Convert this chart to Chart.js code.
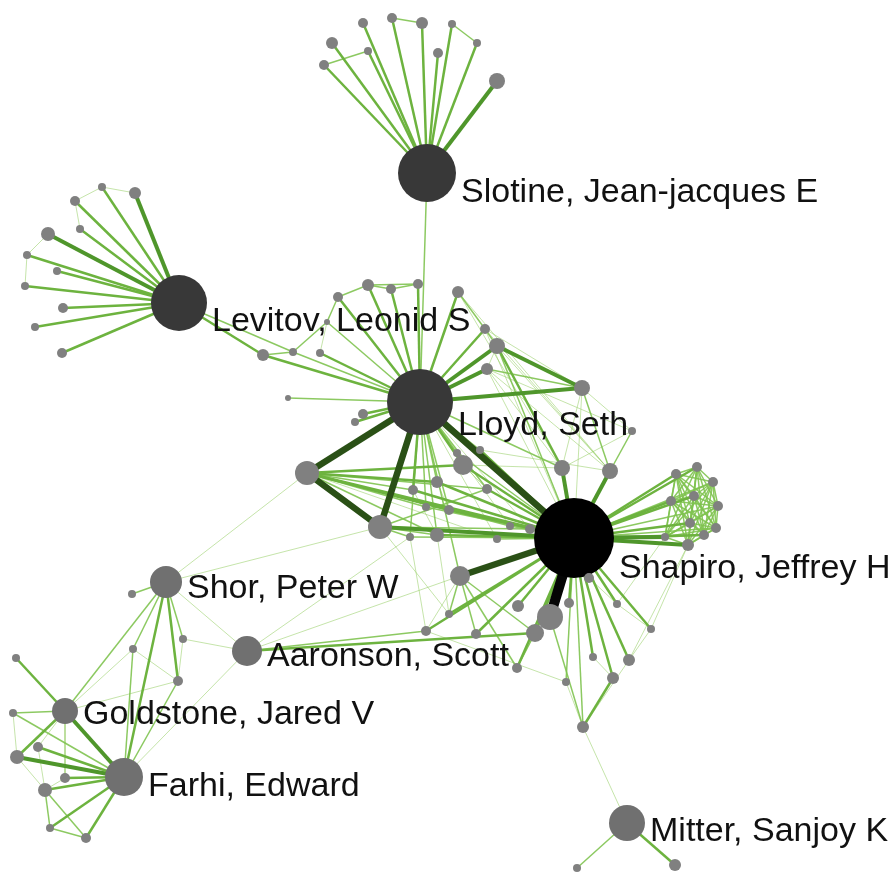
<!DOCTYPE html>
<html>
<head>
<meta charset="utf-8">
<title>Co-author network</title>
<script src="https://cdn.jsdelivr.net/npm/chart.js@4.4.1/dist/chart.umd.min.js"></script>
<style>
  html, body { margin: 0; padding: 0; background: #ffffff; }
  #wrap { width: 893px; height: 872px; }
</style>
</head>
<body>
<div id="wrap"><canvas id="net" width="893" height="872"></canvas></div>
<script>
// ---- Network data -------------------------------------------------------
// Author names (only the first nine are labelled)
const authorNames = [
  'Slotine, Jean-jacques E', 'Levitov, Leonid S', 'Lloyd, Seth', 'Shapiro, Jeffrey H',
  'Shor, Peter W', 'Aaronson, Scott', 'Goldstone, Jared V', 'Farhi, Edward', 'Mitter, Sanjoy K'
];

// Layout coordinates of every author node
const nodeX = [
  427, 179, 420, 574, 166, 247, 65, 124, 627,
  332, 324, 363, 368, 392, 422, 438, 452, 477, 497,
  102, 135, 75, 80, 48, 27, 57, 25, 63, 35, 62, 263, 293,
  368, 391, 418, 338, 458, 485, 497, 487, 582, 327, 320, 288, 363, 355,
  307, 380, 463, 457, 480, 562, 610, 437, 413, 487, 426, 449, 410, 437, 510, 530, 497,
  697, 676, 713, 694, 671, 718, 690, 716, 665, 704, 688,
  460, 449, 426, 476, 518, 550, 535, 569, 589, 617, 651, 629, 613, 593, 566, 517, 583,
  675, 577,
  132, 183, 133, 178, 16, 13, 38, 17, 65, 45, 50, 86,
  632
];
const nodeY = [
  173, 303, 402, 538, 582, 651, 711, 777, 823,
  43, 65, 23, 51, 18, 23, 53, 24, 43, 81,
  187, 193, 201, 229, 234, 255, 271, 286, 308, 327, 353, 355, 352,
  285, 289, 284, 297, 292, 329, 346, 369, 388, 322, 353, 398, 414, 422,
  473, 527, 465, 453, 450, 468, 471, 482, 490, 489, 507, 510, 537, 535, 526, 529, 539,
  467, 474, 482, 496, 501, 506, 523, 528, 537, 535, 545,
  576, 614, 631, 634, 606, 617, 633, 603, 578, 604, 629, 660, 678, 657, 682, 668, 727,
  865, 868,
  594, 639, 649, 681, 658, 713, 747, 757, 778, 790, 828, 838,
  431
];
// Node weight (drawn as the circle radius)
const nodeWeight = [
  29, 28, 33, 40, 16, 15, 13, 19, 18,
  6, 5, 5, 4, 5, 6, 5, 4, 4, 8,
  4, 6, 5, 4, 7, 4, 4, 4, 5, 4, 5, 6, 4,
  6, 5, 5, 5, 6, 5, 8, 6, 8, 3, 4, 3, 5, 4,
  12, 12, 10, 4, 4, 8, 8, 6, 5, 5, 4, 5, 4, 7, 4, 5, 4,
  5, 5, 5, 5, 5, 5, 5, 5, 4, 5, 6,
  10, 4, 5, 5, 6, 13, 9, 5, 5, 4, 4, 6, 6, 4, 4, 5, 6,
  6, 4,
  4, 4, 4, 5, 4, 4, 5, 7, 5, 7, 4, 5,
  4
];

// Co-authorship links: [author a, author b, strength 1..6]
const links = [
  // Slotine group
  [0,9,3],[0,10,3],[0,11,3],[0,12,3],[0,13,3],[0,14,3],[0,15,3],[0,16,3],[0,17,3],[0,18,4],
  [10,12,2],[13,14,2],[16,17,2],[0,2,2],
  // Levitov group
  [1,19,3],[1,20,4],[1,21,3],[1,22,3],[1,23,4],[1,24,3],[1,25,3],[1,26,3],[1,27,3],[1,28,3],[1,29,3],
  [19,21,1],[19,20,1],[21,22,1],[23,24,1],[24,26,1],
  [1,30,3],[1,31,2],[30,2,3],[31,2,2],[30,31,2],
  // Lloyd group
  [2,32,3],[2,33,3],[2,34,3],[2,35,3],[2,36,3],[2,37,3],[2,38,4],[2,39,4],[2,40,4],[2,41,2],
  [2,42,3],[2,43,2],[2,44,3],[2,45,3],[2,46,5],[2,47,5],[2,3,5],
  [35,32,2],[32,33,2],[33,34,2],[32,34,2],[41,42,1],[41,31,2],[35,41,2],[36,37,2],[37,38,2],
  [38,40,4],[39,40,2],[38,39,1],
  [2,48,3],[2,49,2],[2,50,2],[2,53,2],[2,54,3],[2,55,2],[2,56,2],[2,57,2],[2,59,2],[2,58,2],[2,51,2],
  [2,74,2],[2,60,1],[2,61,1],[2,62,1],
  [46,47,5],[46,3,3],[46,53,3],[46,48,3],[46,54,2],[46,57,3],[46,56,2],[46,55,2],[46,59,2],
  [46,60,2],[46,61,2],[46,62,1],
  [47,3,4],[47,59,2],[47,58,2],[47,55,2],[47,61,2],
  [48,55,1],[53,57,1],[54,59,1],
  [38,51,3],[38,52,1],[39,51,1],[40,52,2],[40,51,1],[37,3,1],[38,3,2],[39,3,1],[36,51,1],[40,3,1],
  [36,52,1],[37,52,1],[48,51,1],[50,52,1],[39,52,1],[37,40,1],
  [105,52,2],[105,51,1],[105,40,1],[105,39,1],
  // Shapiro group
  [3,48,3],[3,49,2],[3,50,3],[3,51,4],[3,52,4],[3,53,3],[3,54,3],[3,55,3],[3,56,2],[3,57,3],
  [3,58,2],[3,59,3],[3,60,2],[3,61,3],[3,62,2],
  [3,63,3],[3,64,3],[3,65,2],[3,66,3],[3,67,3],[3,68,2],[3,69,3],[3,70,2],[3,71,4],[3,72,3],[3,73,4],
  [3,74,5],[3,75,3],[3,76,3],[3,77,3],[3,78,3],[3,79,6],[3,80,3],[3,81,3],[3,82,3],[3,83,3],
  [3,84,3],[3,85,3],[3,86,3],[3,87,3],[3,88,2],[3,89,3],[3,90,2],
  [74,77,2],[74,89,2],[74,75,2],[74,76,1],[74,80,2],
  [79,90,2],[80,89,2],[86,90,3],[85,90,1],[84,85,1],[83,84,1],[82,83,1],[86,87,1],[88,90,1],
  [76,88,1],[89,80,1],[84,73,1],[85,73,1],[83,71,1],
  [58,76,1],[47,75,1],[59,75,1],
  // Aaronson, Mitter
  [5,80,3],[5,76,2],[5,58,1],[5,94,1],[5,4,1],[5,7,1],[5,74,1],
  [90,8,1],[8,91,3],[8,92,2],
  // Shor, Goldstone, Farhi group
  [4,6,2],[4,7,3],[4,93,2],[4,94,2],[4,95,2],[4,96,3],[4,46,1],[4,47,1],
  [95,96,1],[95,6,1],[94,96,1],[96,7,2],[95,7,2],[6,96,1],
  [6,7,4],[6,97,3],[6,98,2],[6,100,3],[6,99,1],[6,101,1],
  [7,98,2],[7,99,3],[7,100,4],[7,101,3],[7,102,3],[7,103,3],[7,104,3],
  [102,104,2],[102,103,2],[103,104,2],[100,102,1],[98,100,1],[99,102,1],[101,102,1]
];

// Tightly knit research group: every pair has co-authored
const denseGroup = [63, 64, 65, 66, 67, 68, 69, 70, 71, 72, 73];

// ---- Styling ----------------------------------------------------------------
const linkStyle = {
  1: { color: 'rgba(150,205,100,0.55)', width: 1 },
  2: { color: 'rgba(128,195,80,0.9)', width: 1.5 },
  3: { color: '#6db33f', width: 2.5 },
  4: { color: '#4f962b', width: 4 },
  5: { color: '#2a5016', width: 6.5 },
  6: { color: '#050505', width: 10 }
};
function nodeColor(i) {
  if (i === 3) return '#000000';
  if (i <= 2) return '#383838';
  if (i <= 8) return '#707070';
  return '#808080';
}

// ---- Build datasets -------------------------------------------------------
const allLinks = links.slice();
for (let a = 0; a < denseGroup.length; a++) {
  for (let b = a + 1; b < denseGroup.length; b++) {
    allLinks.push([denseGroup[a], denseGroup[b], 2]);
  }
}

const nodePoints = nodeX.map((x, i) => ({ x: x, y: nodeY[i] }));

const nodeDataset = {
  type: 'scatter',
  label: 'authors',
  data: nodePoints,
  pointRadius: nodeWeight,
  pointHoverRadius: nodeWeight,
  pointBackgroundColor: nodeX.map((_, i) => nodeColor(i)),
  pointBorderWidth: 0,
  pointHoverBorderWidth: 0,
  order: 0,
  clip: false
};

const linkDatasets = allLinks.map(([a, b, w]) => ({
  type: 'line',
  data: [nodePoints[a], nodePoints[b]],
  borderColor: linkStyle[w].color,
  borderWidth: linkStyle[w].width,
  borderCapStyle: w >= 5 ? 'round' : 'butt',
  pointRadius: 0,
  pointHoverRadius: 0,
  fill: false,
  tension: 0,
  order: 10 - w,
  clip: false
}));

// Author name labels next to the main nodes
const nameLabels = {
  id: 'nameLabels',
  afterDatasetsDraw(chart) {
    const ctx = chart.ctx;
    const meta = chart.getDatasetMeta(0);
    ctx.save();
    ctx.font = '34px "Liberation Sans", Arial, sans-serif';
    ctx.fillStyle = '#111111';
    ctx.textAlign = 'left';
    ctx.textBaseline = 'alphabetic';
    authorNames.forEach((name, i) => {
      const el = meta.data[i];
      const r = nodeWeight[i];
      ctx.fillText(name, el.x + r + 5, el.y + r);
    });
    ctx.restore();
  }
};

new Chart(document.getElementById('net'), {
  type: 'scatter',
  data: { datasets: [nodeDataset].concat(linkDatasets) },
  options: {
    responsive: false,
    animation: false,
    devicePixelRatio: 1,
    layout: { padding: 0, autoPadding: false },
    events: [],
    scales: {
      x: { type: 'linear', min: 0, max: 893, display: false },
      y: { type: 'linear', min: 0, max: 872, reverse: true, display: false }
    },
    plugins: {
      legend: { display: false },
      tooltip: { enabled: false }
    }
  },
  plugins: [nameLabels]
});
</script>
</body>
</html>
